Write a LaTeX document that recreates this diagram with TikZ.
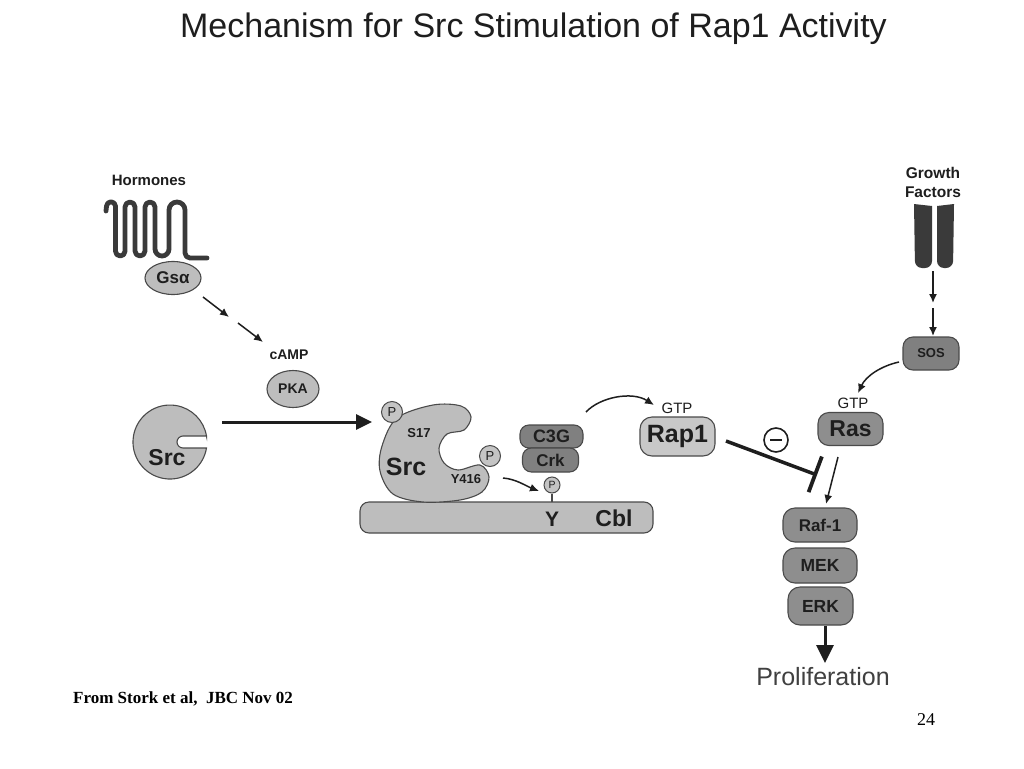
\documentclass[tikz,border=0pt]{standalone}
\usepackage{fontspec}
\setmainfont{Liberation Sans}
\newfontfamily\timesf{Liberation Serif}
\usetikzlibrary{arrows.meta,shapes.geometric}
\definecolor{ink}{HTML}{1E1E1E}
\definecolor{edgec}{HTML}{4A4A4A}
\definecolor{lightg}{HTML}{BDBDBD}
\definecolor{rapc}{HTML}{C8C8C8}
\definecolor{midg}{HTML}{8E8E8E}
\definecolor{darkg}{HTML}{808080}
\definecolor{recc}{HTML}{3A3A3A}
\definecolor{pcol}{HTML}{C4C4C4}
\begin{document}
\begin{tikzpicture}[x=1pt,y=-1pt,
  bf/.style={font=\bfseries\fontsize{#1}{#1}\selectfont, text=ink, inner sep=0pt},
  rg/.style={font=\fontsize{#1}{#1}\selectfont, text=ink, inner sep=0pt},
  pill/.style={draw=edgec, line width=1.1pt, rounded corners=10pt, inner sep=0pt, text=ink},
  blob/.style={draw=edgec, line width=1.1pt, fill=lightg},
  pcirc/.style={circle, draw=edgec, line width=1pt, fill=pcol, inner sep=0pt, minimum size=#1, font=\fontsize{13}{13}\selectfont, text=ink},
  thinarrow/.style={line width=1.5pt, draw=ink, -{Latex[length=9pt,width=8pt]}},
  bigarrow/.style={line width=3pt, draw=ink, -{Triangle[length=18pt,width=17pt]}}]
\useasboundingbox[fill=white] (0,0) rectangle (1024,768);

% title
\node[rg=34] (title) at (533.5,29) {Mechanism for Src Stimulation of Rap1 Activity};

% hormones receptor
\node[bf=15] (horm) at (149,180) {Hormones};
\draw[line width=4.8pt, draw=recc, line cap=round, line join=round]
  (106,211) -- (106.5,206.25) arc[start angle=180, end angle=360, radius=4.5]
  -- (115.5,251.25) arc[start angle=180, end angle=0, radius=4.75]
  -- (125,207) arc[start angle=180, end angle=360, radius=5]
  -- (135,251) arc[start angle=180, end angle=0, radius=5]
  -- (145,207) arc[start angle=180, end angle=360, radius=5]
  -- (155,249) arc[start angle=180, end angle=0, radius=7]
  -- (169,210) arc[start angle=180, end angle=360, radius=8]
  -- (185,253) arc[start angle=180, end angle=90, radius=5] -- (207,258);
\node[ellipse, blob, minimum width=56pt, minimum height=33pt, inner sep=0pt, bf=17] (gs) at (173,278) {Gsα};

\coordinate (g1s) at (203,297);
\coordinate (g1e) at (229,317);
\coordinate (g2s) at (238,323);
\coordinate (g2e) at (263,342);
\draw[thinarrow] (g1s) -- (g1e);
\draw[thinarrow] (g2s) -- (g2e);

\node[bf=14] (camp) at (289,355) {cAMP};
\node[ellipse, blob, minimum width=52pt, minimum height=37pt, inner sep=0pt, bf=14] (pka) at (293,389) {PKA};

% Src inactive
\draw[blob] (206.5,436) -- (183,436) arc[start angle=-90, end angle=-270, radius=6]
  -- (206.5,448) arc[start angle=9.3, end angle=350.7, radius=37] -- cycle;
\node[bf=23] (srcL) at (167,458) {Src};

\coordinate (a1s) at (222,422);
\coordinate (a1e) at (372,422);
\draw[line width=3pt, draw=ink, -{Triangle[length=16pt,width=15pt]}] (a1s) -- (a1e);

% Cbl bar
\node[draw=edgec, fill=lightg, line width=1.1pt, rounded corners=9pt, minimum width=293pt, minimum height=31pt, inner sep=0pt] (cbl) at (506.5,517.5) {};
\node[bf=21] (yl) at (552,519) {Y};
\node[bf=23] (cbll) at (614,518) {Cbl};

% Src active
\draw[blob] plot[smooth cycle, tension=0.55] coordinates {
  (397,418) (433,405) (461,406) (471,417) (464,430) (447,434) (439,448) (444,463)
  (458,470) (480,465) (489,477) (482,492) (460,500) (423,502) (393,494) (380,471) (382,446)};
\node[pcirc=21pt] (p1) at (392,412) {P};
\node[pcirc=21pt] (p2) at (490,456) {P};
\node[bf=13] (s17) at (419,433) {S17};
\node[bf=25] (srcR) at (406,467) {Src};
\node[bf=13] (y416) at (466,479) {Y416};

% C3G / Crk
\node[pill, fill=darkg, rounded corners=9pt, minimum width=63pt, minimum height=23pt, bf=18] (c3g) at (551.5,436.5) {C3G};
\node[pill, fill=darkg, rounded corners=9pt, minimum width=56pt, minimum height=24pt, bf=17] (crk) at (550.5,460) {Crk};

% phospho-Y on Cbl
\coordinate (stemb) at (552,502);
\node[pcirc=16pt, font=\fontsize{10.5}{10.5}\selectfont] (p3) at (552,485) {P};
\draw[line width=1.2pt, draw=edgec] (p3) -- (stemb);

\coordinate (ys) at (503,478);
\coordinate (ye) at (539,491);
\draw[thinarrow] (ys) .. controls (516,479) and (526,486) .. (ye);

% Rap1
\coordinate (cs) at (586,412);
\coordinate (ce) at (654,405);
\draw[thinarrow] (cs) .. controls (600,397) and (632,391) .. (ce);
\node[rg=15] (gtp1) at (677,408) {GTP};
\node[pill, fill=rapc, rounded corners=12pt, minimum width=75pt, minimum height=39pt, bf=25] (rap1) at (677.5,436.5) {Rap1};

% inhibition
\coordinate (is) at (726,441);
\coordinate (ie) at (817,475);
\draw[line width=3.5pt, draw=ink, -{Bar[width=38pt, line width=3.8pt]}] (is) -- (ie);
\node[circle, draw=ink, line width=1.6pt, minimum size=24pt, inner sep=0pt] (minus) at (776,440) {\textcolor{ink}{\rule{12pt}{2pt}}};

% Ras
\node[rg=15] (gtp2) at (853,403) {GTP};
\node[pill, fill=midg, rounded corners=11pt, minimum width=65pt, minimum height=33pt, bf=23] (ras) at (850.5,429) {Ras};
\coordinate (rs) at (838,457);
\coordinate (re) at (826,504);
\draw[thinarrow] (rs) -- (re);

% growth factors
\node[bf=15.5, align=center] (gf1) at (933,173) {Growth};
\node[bf=15.5, align=center] (gf2) at (933,192) {Factors};
\fill[recc] (914,204) -- (932,206) [rounded corners=7pt] -- (932,268) -- (915,268) [sharp corners] -- cycle;
\fill[recc] (937,206) -- (954,204) [rounded corners=7pt] -- (953,268) -- (937,268) [sharp corners] -- cycle;
\coordinate (gfa) at (933,271);
\coordinate (gfb) at (933,303);
\coordinate (gfc) at (933,308);
\coordinate (gfd) at (933,336);
\draw[thinarrow] (gfa) -- (gfb);
\draw[thinarrow] (gfc) -- (gfd);

\node[pill, fill=darkg, rounded corners=10pt, minimum width=56pt, minimum height=33pt, bf=13] (sos) at (931,353.5) {SOS};
\coordinate (ss) at (899,362);
\coordinate (se) at (858,393);
\draw[thinarrow] (ss) .. controls (881,366) and (866,376) .. (se);

% MAPK cascade
\node[pill, fill=midg, rounded corners=12pt, minimum width=74pt, minimum height=34pt, bf=17] (raf) at (820,525) {Raf-1};
\node[pill, fill=midg, rounded corners=12pt, minimum width=74pt, minimum height=35pt, bf=17.5] (mek) at (820,565.5) {MEK};
\node[pill, fill=midg, rounded corners=12pt, minimum width=65pt, minimum height=38pt, bf=17.5] (erk) at (820.5,606) {ERK};
\coordinate (pe) at (825,663);
\draw[bigarrow] (erk.south -| pe) -- (pe);
\node[rg=25, text=ink!85] (prolif) at (823,677) {Proliferation};

% footer
\node[font=\timesf\bfseries\fontsize{17}{17}\selectfont, anchor=west, inner sep=0pt] (src) at (73,699) {From Stork et al,\ \ JBC Nov 02};
\node[font=\timesf\fontsize{18}{18}\selectfont, inner sep=0pt] (pg) at (926,720) {24};
\end{tikzpicture}
\end{document}
